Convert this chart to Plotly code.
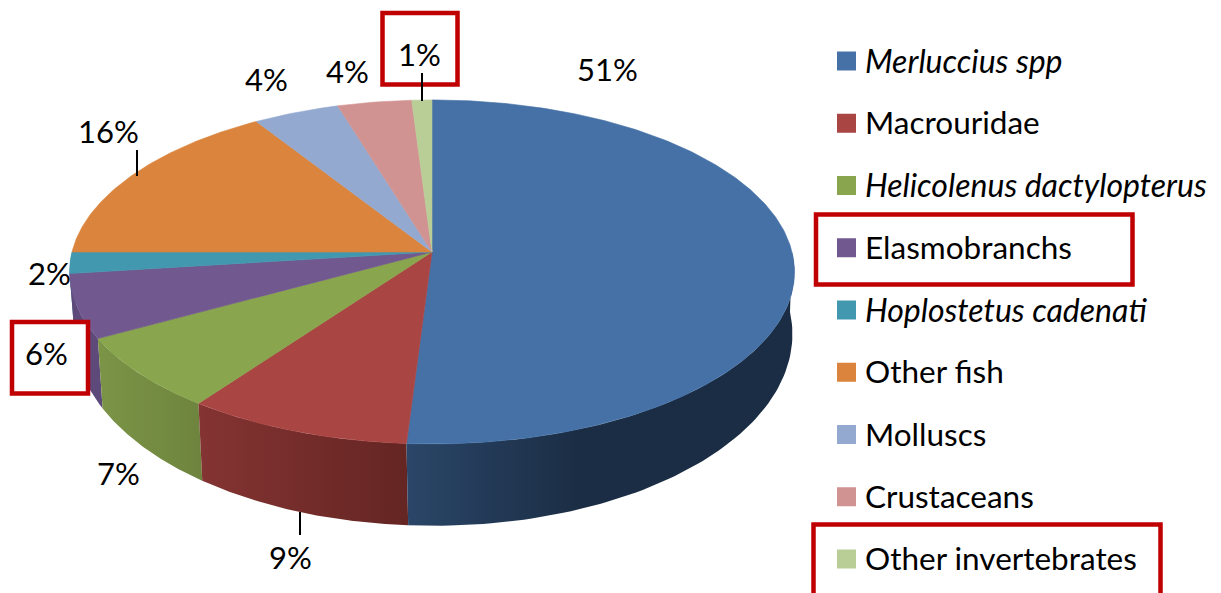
import numpy as np
import plotly.graph_objects as go

categories = ["Merluccius spp", "Macrouridae", "Helicolenus dactylopterus", "Elasmobranchs",
              "Hoplostetus cadenati", "Other fish", "Molluscs", "Crustaceans", "Other invertebrates"]
italic = [True, False, True, False, True, False, False, False, False]
values = [51, 9, 7, 6, 2, 16, 4.3, 3.7, 1]
colors = ["#4571A6", "#A94543", "#89A54E", "#71588F", "#4198AF", "#DA843D", "#93A9CF", "#D19392", "#B9CD96"]
side_scales = {
    0: [[0, "#2A4668"], [0.45, "#1B2D44"], [1, "#1B2D44"]],
    1: [[0, "#843432"], [1, "#642523"]],
    2: [[0, "#7B9446"], [1, "#6E843E"]],
    3: [[0, "#5E4A7A"], [1, "#5E4A7A"]],
    4: [[0, "#357F92"], [1, "#357F92"]],
}
label_pos = [(607, 69), (290, 557), (118, 473), (46, 353), (49, 273), (108, 131), (266, 79), (347, 71), (419, 54)]

FONT = "Lato, Carlito, Calibri, sans-serif"
FS_PCT = 31
FS_REG = 31.5
FS_IT = 32
K = 0.116
TOP = dict(cx=432, cy=252, R=360, H=169.7)
BASE = dict(cx=433.5, cy=312, R=356.5, H=189)


def project(theta_deg, g):
    t = np.radians(theta_deg)
    u, v = np.sin(t), np.cos(t)
    s = 1 / (1 + K * v)
    return g["cx"] + g["R"] * u * s, g["cy"] - g["H"] * v * s


edges = np.cumsum([0] + values) * 3.6
fig = go.Figure()

# side walls, back to front
for i in [4, 3, 2, 1, 0]:
    a0, a1 = max(edges[i], 90), min(edges[i + 1], 270)
    th = np.linspace(a0, a1, 80)
    xt, yt = project(th, TOP)
    xb, yb = project(th[::-1], BASE)
    fig.add_trace(go.Scatter(
        x=np.r_[xt, xb, xt[0]], y=np.r_[yt, yb, yt[0]], mode="lines", fill="toself",
        line=dict(width=0), hoverinfo="skip", showlegend=False,
        fillgradient=dict(type="horizontal", colorscale=side_scales[i])))

# top face
for i, c in enumerate(colors):
    th = np.linspace(edges[i], edges[i + 1], max(int(values[i] * 6), 12))
    xt, yt = project(th, TOP)
    fig.add_trace(go.Scatter(
        x=np.r_[TOP["cx"], xt, TOP["cx"]], y=np.r_[TOP["cy"], yt, TOP["cy"]], mode="lines", fill="toself",
        fillcolor=c, line=dict(width=0.6, color=c), hoverinfo="skip", showlegend=False))

# legend swatches
leg_y = [61 + 62.25 * i for i in range(len(categories))]
fig.add_trace(go.Scatter(
    x=[846.5] * len(categories), y=leg_y, mode="markers", hoverinfo="skip", showlegend=False,
    marker=dict(symbol="square", size=19, color=colors, line=dict(width=0))))

RED = "#C00000"
shapes = []
for x0, x1, y0, y1 in [(382.5, 457.5, 13, 84.5), (12, 88, 322, 393.5)]:
    shapes.append(dict(type="rect", x0=x0, x1=x1, y0=y0, y1=y1, fillcolor="white", line=dict(color=RED, width=4.5)))
for x0, x1, y0, y1 in [(816, 1132.5, 214.5, 284.5), (813.5, 1160.5, 524.5, 620)]:
    shapes.append(dict(type="rect", x0=x0, x1=x1, y0=y0, y1=y1, line=dict(color=RED, width=4.5)))
for x, y0, y1 in [(137, 150, 176), (422, 73, 101), (300, 512, 535)]:
    shapes.append(dict(type="line", x0=x, x1=x, y0=y0, y1=y1, line=dict(color="black", width=2)))

ann = []
for v, (x, y) in zip(values, label_pos):
    ann.append(dict(x=x, y=y, text=f"{round(v)}%", showarrow=False, xanchor="center", yanchor="middle",
                    font=dict(family=FONT, size=FS_PCT, color="black")))
for name, it, y in zip(categories, italic, leg_y):
    ann.append(dict(x=863, y=y - 1, text=f"<i>{name}</i>" if it else name, showarrow=False,
                    xanchor="left", yanchor="middle",
                    font=dict(family=FONT, size=FS_IT if it else FS_REG, color="black")))

fig.update_layout(
    width=1221, height=593, margin=dict(l=0, r=0, t=0, b=0),
    paper_bgcolor="white", plot_bgcolor="white", showlegend=False,
    xaxis=dict(range=[0, 1221], visible=False, fixedrange=True),
    yaxis=dict(range=[593, 0], visible=False, fixedrange=True),
    shapes=shapes, annotations=ann)
fig.write_html("out.html", config=dict(displayModeBar=False),
               post_script="document.body.style.margin='0';")
